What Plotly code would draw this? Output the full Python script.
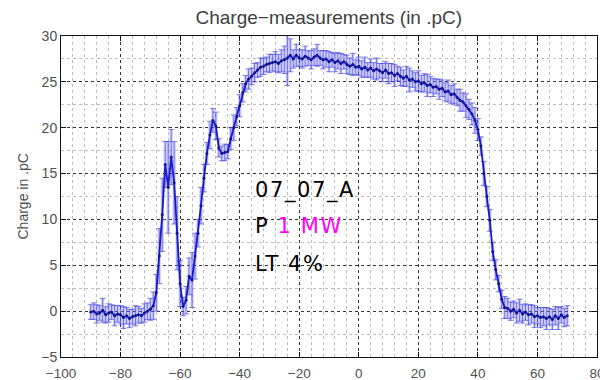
import plotly.graph_objects as go

x_pos = [
    -90, -89, -88, -87, -86, -85, -84, -83, -82, -81, -80, -79, -78, -77, -76, -75, -74, -73, -72, -71, -70,
    -69, -68, -67, -66, -65, -64, -63, -62, -61, -60, -59, -58, -57, -56, -55, -54, -53, -52, -51, -50,
    -49, -48, -47, -46, -45, -44, -43, -42, -41, -40, -39, -38, -37, -36, -35, -34, -33, -32, -31, -30,
    -29, -28, -27, -26, -25, -24, -23, -22, -21, -20, -19, -18, -17, -16, -15, -14, -13, -12, -11, -10,
    -9, -8, -7, -6, -5, -4, -3, -2, -1, 0, 1, 2, 3, 4, 5, 6, 7, 8, 9, 10,
    11, 12, 13, 14, 15, 16, 17, 18, 19, 20, 21, 22, 23, 24, 25, 26, 27, 28, 29, 30,
    31, 32, 33, 34, 35, 36, 37, 38, 39, 40, 41, 42, 43, 44, 45, 46, 47, 48, 49, 50,
    51, 52, 53, 54, 55, 56, 57, 58, 59, 60, 61, 62, 63, 64, 65, 66, 67, 68, 69, 70,
]

charge = [
    -0.1, 0.0, -0.3, -0.2, 0.1, -0.4, -0.2, -0.1, -0.5, -0.3, -0.4, -0.7, -0.5, -0.8, -0.6, -0.5, -0.4, -0.5, -0.2, 0.0, 0.2,
    0.6, 2.0, 6.0, 10.5, 16.0, 13.5, 16.8, 14.0, 8.5, 3.0, 0.5, 1.2, 3.8, 3.4, 6.0, 8.5, 11.5, 14.5, 17.2, 19.2,
    20.8, 20.2, 17.8, 17.2, 17.3, 17.4, 18.8, 20.0, 21.2, 22.4, 23.8, 24.8, 25.3, 25.6, 26.0, 26.3, 26.6, 26.7, 26.9, 27.0,
    27.1, 27.2, 27.0, 27.3, 27.4, 27.6, 27.9, 27.5, 27.9, 27.6, 27.5, 27.8, 27.6, 27.4, 27.7, 27.9, 27.6, 27.4, 27.5, 27.2,
    27.4, 27.1, 27.3, 27.0, 27.2, 26.9, 26.7, 26.9, 26.6, 26.7, 26.4, 26.6, 26.3, 26.5, 26.2, 26.4, 26.2, 26.0, 26.3, 25.9,
    26.0, 25.7, 25.9, 25.6, 25.4, 25.6, 25.2, 25.3, 25.0, 25.1, 24.8, 24.9, 24.6, 24.7, 24.4, 24.5, 24.2, 24.3, 23.9, 24.0,
    23.6, 23.7, 23.3, 23.0, 22.8, 22.4, 22.0, 21.5, 20.8, 19.8, 18.0, 15.0, 12.5, 9.9, 6.5, 4.5, 3.0, 1.3, 0.4, 0.3,
    0.0, 0.2, -0.2, 0.1, -0.3, -0.1, -0.4, -0.3, -0.6, -0.5, -0.7, -0.6, -0.8, -0.6, -0.9, -0.5, -0.8, -0.4, -0.7, -0.5,
]

charge_err = [
    0.8, 0.9, 1.0, 0.8, 1.3, 0.9, 1.0, 0.8, 1.1, 0.9, 1.0, 1.2, 0.9, 1.0, 0.8, 1.1, 0.9, 0.8, 1.0, 0.9, 1.2,
    1.5, 2.0, 3.0, 4.0, 2.5, 5.0, 3.0, 4.5, 4.0, 2.5, 1.0, 1.5, 2.0, 3.0, 2.5, 1.5, 2.0, 1.5, 1.2, 1.5,
    1.3, 1.5, 1.0, 0.8, 0.9, 0.8, 1.2, 1.4, 1.0, 1.2, 1.0, 0.9, 1.1, 0.9, 1.0, 0.8, 1.0, 0.9, 0.8, 1.0,
    0.9, 1.1, 1.0, 1.2, 1.5, 3.0, 1.8, 1.0, 1.2, 0.9, 1.0, 1.1, 0.8, 1.0, 0.9, 1.2, 0.8, 1.0, 0.9, 1.1,
    0.8, 1.0, 0.9, 1.1, 0.8, 1.0, 0.9, 1.2, 0.8, 1.0, 0.9, 1.1, 0.8, 1.0, 0.9, 1.2, 0.8, 1.0, 0.9, 1.1,
    1.0, 1.2, 0.8, 1.0, 0.9, 1.1, 1.3, 0.9, 1.0, 1.1, 0.9, 1.0, 1.2, 0.9, 1.0, 0.8, 1.1, 0.9, 1.0, 1.2,
    1.0, 1.1, 0.9, 1.2, 1.0, 1.3, 1.1, 1.2, 1.4, 1.2, 1.0, 1.3, 1.1, 1.2, 1.0, 1.1, 0.9, 1.0, 1.2, 1.1,
    1.0, 0.9, 1.1, 1.2, 1.0, 0.9, 1.1, 1.0, 1.2, 0.9, 1.1, 1.0, 1.2, 0.9, 1.1, 1.0, 1.2, 0.9, 1.0, 1.1,
]

x_ticks = [-100, -80, -60, -40, -20, 0, 20, 40, 60, 80]
y_ticks = [-5, 0, 5, 10, 15, 20, 25, 30]

fig = go.Figure()

# light band made of thick translucent error bars
fig.add_trace(go.Scatter(
    x=x_pos, y=charge, mode="markers",
    marker=dict(size=1, color="rgba(0,0,0,0)"),
    error_y=dict(type="data", array=charge_err, visible=True,
                 color="rgba(120,120,255,0.35)", thickness=3.2, width=0),
    showlegend=False, hoverinfo="skip",
))

# main series with capped error bars
fig.add_trace(go.Scatter(
    x=x_pos, y=charge, mode="lines+markers",
    line=dict(color="rgb(25,25,200)", width=1.8),
    marker=dict(size=3, color="rgb(20,20,140)"),
    error_y=dict(type="data", array=charge_err, visible=True,
                 color="rgba(70,70,225,0.75)", thickness=0.9, width=3),
    showlegend=False,
))

tick_font = dict(family="Liberation Sans, Arial, sans-serif", size=14, color="#505050")

axis_common = dict(
    showline=True, linecolor="#111", linewidth=1, mirror="ticks",
    ticks="inside", ticklen=5, tickcolor="#111",
    showgrid=True, gridcolor="#333", griddash="dot", gridwidth=1,
    zeroline=False, automargin=False, ticklabeloverflow="allow",
)

fig.update_xaxes(
    range=[-100, 80], tickmode="array", tickvals=x_ticks,
    tickfont=dict(family="Liberation Sans, Arial, sans-serif", size=13.5, color="#505050"),
    ticklabelstandoff=4,
    minor=dict(dtick=4, tick0=-100, showgrid=True, gridcolor="#bdbdbd", griddash="dot", gridwidth=1),
    **axis_common,
)
fig.update_yaxes(
    range=[-5, 30], tickmode="array", tickvals=y_ticks,
    tickfont=tick_font,
    minor=dict(dtick=2.5, tick0=-5, showgrid=True, gridcolor="#bdbdbd", griddash="dot", gridwidth=1),
    **axis_common,
)

big_font = dict(family="DejaVu Sans", size=21, color="black")
sp = "letter-spacing:1.6px"
annos = [
    dict(x=-35.6, y=13.2, xref="x", yref="y",
         text=f"<span style='{sp}'>07_07_A</span>", showarrow=False,
         xanchor="left", yanchor="middle", font=big_font),
    dict(x=-35.6, y=9.3, xref="x", yref="y",
         text=f"<span style='{sp}'>P </span>"
              f"<span style='color:#ff00ff;{sp}'>1 MW</span>",
         showarrow=False, xanchor="left", yanchor="middle", font=big_font),
    dict(x=-35.6, y=5.1, xref="x", yref="y",
         text=f"<span style='{sp}'>LT 4%</span>", showarrow=False,
         xanchor="left", yanchor="middle", font=big_font),
    dict(x=0, y=0.5, xref="paper", yref="paper", xshift=-39, text="Charge in .pC",
         textangle=-90, showarrow=False, xanchor="center", yanchor="middle",
         font=dict(family="Liberation Sans, Arial, sans-serif", size=14, color="#505050")),
]

fig.update_layout(
    width=600, height=380,
    margin=dict(l=61, r=3, t=36, b=23),
    paper_bgcolor="white", plot_bgcolor="white",
    title=dict(text="Charge\u2212measurements (in .pC)", x=0.548, xanchor="center",
               y=1 - 17 / 380, yanchor="middle",
               font=dict(family="Liberation Sans, Arial, sans-serif", size=19, color="#404040")),
    annotations=annos,
)

fig.write_html("out.html")
